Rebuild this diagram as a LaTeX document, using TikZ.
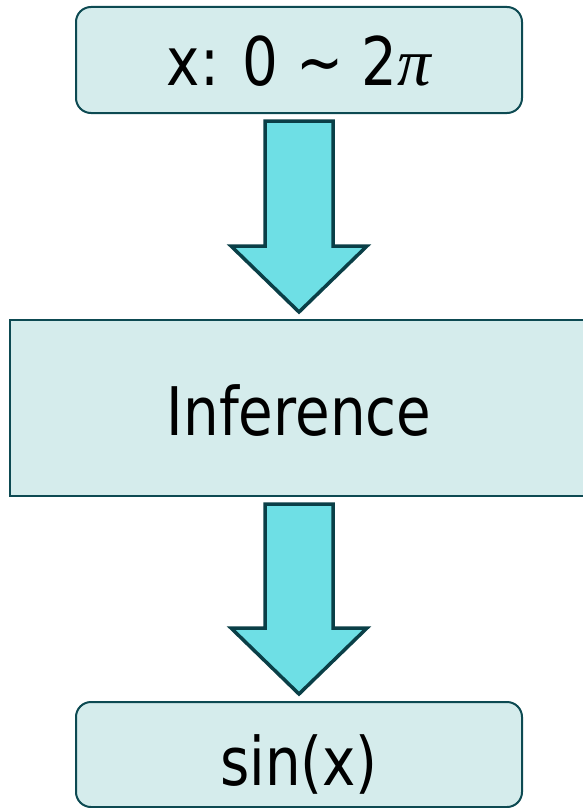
\documentclass[tikz,border=0pt]{standalone}
\usepackage{fontspec}
\setmainfont{DejaVu Sans}[FakeStretch=0.84]
\newfontfamily\pifont{Liberation Serif}
\usetikzlibrary{calc}
\definecolor{boxfill}{HTML}{D5ECEC}
\definecolor{boxline}{HTML}{0D4A52}
\definecolor{arrfill}{HTML}{6EDFE5}
\definecolor{arrline}{HTML}{0A3F47}
\newcommand{\flowarrow}[2]{%
  \draw[blockarrow]
    ($(#1.south)+(-34,7)$) -- ($(#1.south)+(34,7)$)
    -- ($(#2.north)+(34,-73)$) -- ($(#2.north)+(68,-73)$)
    -- ($(#2.north)+(0,-7)$)
    -- ($(#2.north)+(-68,-73)$) -- ($(#2.north)+(-34,-73)$) -- cycle;}
\begin{document}
\begin{tikzpicture}[x=1pt,y=-1pt,
  box/.style={draw=boxline, fill=boxfill, line width=2pt, inner sep=0pt,
    font=\fontsize{67}{80}\selectfont, text depth=0pt},
  blockarrow/.style={draw=arrline, fill=arrfill, line width=3.5pt, line join=miter}]
\useasboundingbox (0,0) rectangle (583,808);
\node[box, rounded corners=15pt, minimum width=446pt, minimum height=106pt,
  text height=50pt] (top) at (299,60) {x: 0 \textasciitilde{} 2{\pifont\itshape π}};
\node[box, minimum width=578pt, minimum height=176pt,
  text height=54pt] (inf) at (299,408) {Inference};
\node[box, rounded corners=15pt, minimum width=446pt, minimum height=105pt,
  text height=61pt] (bot) at (299,754.5) {sin(x)};
\flowarrow{top}{inf}
\flowarrow{inf}{bot}
\end{tikzpicture}
\end{document}
